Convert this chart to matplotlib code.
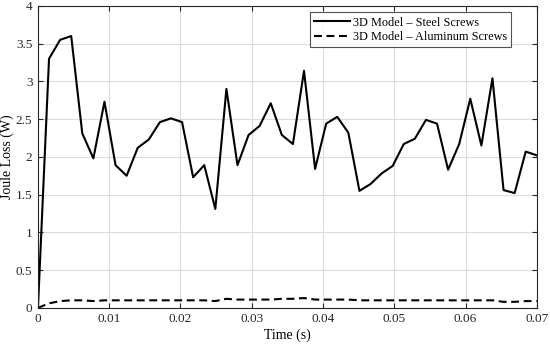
import matplotlib

matplotlib.use("Agg")

import matplotlib.pyplot as plt
from matplotlib.ticker import FuncFormatter


N_STEPS = 45
T_END = 0.07

STEEL_LOSS = [
    0.0, 3.30, 3.55, 3.60, 2.31, 1.98, 2.73, 1.89, 1.75, 2.12,
    2.23, 2.46, 2.51, 2.46, 1.73, 1.89, 1.31, 2.90, 1.89, 2.29,
    2.41, 2.71, 2.29, 2.17, 3.14, 1.84, 2.44, 2.53, 2.32, 1.55,
    1.64, 1.78, 1.88, 2.17, 2.24, 2.49, 2.44, 1.83, 2.17, 2.77,
    2.15, 3.04, 1.56, 1.52, 2.07, 2.02,
]

ALU_LOSS = [
    0.0, 0.06, 0.09, 0.10, 0.10, 0.09, 0.10, 0.10, 0.10, 0.10,
    0.10, 0.10, 0.10, 0.10, 0.10, 0.10, 0.09, 0.12, 0.11, 0.11,
    0.11, 0.11, 0.12, 0.12, 0.13, 0.11, 0.11, 0.11, 0.11, 0.10,
    0.10, 0.10, 0.10, 0.10, 0.10, 0.10, 0.10, 0.10, 0.10, 0.10,
    0.10, 0.10, 0.08, 0.08, 0.09, 0.09,
]

TIME = [i * T_END / N_STEPS for i in range(N_STEPS + 1)]

X_TICKS = [0, 0.01, 0.02, 0.03, 0.04, 0.05, 0.06, 0.07]
Y_TICKS = [0, 0.5, 1, 1.5, 2, 2.5, 3, 3.5, 4]


def short_num(v, _pos=None):
    s = f"{v:.2f}".rstrip("0").rstrip(".")
    return "0" if s in ("", "-0") else s


def main():
    plt.rcParams["font.family"] = ["Liberation Serif", "DejaVu Serif"]

    fig = plt.figure(figsize=(5.5, 3.44), dpi=100)
    ax = fig.add_axes([0.069, 0.105, 0.907, 0.878])

    ax.plot(TIME, STEEL_LOSS, color="black", lw=1.5, label="3D Model \u2013 Steel Screws")
    ax.plot(TIME, ALU_LOSS, color="black", lw=1.5, ls=(0, (3.8, 2.2)),
            label="3D Model \u2013 Aluminum Screws")

    ax.set_xlim(0, 0.07)
    ax.set_ylim(0, 4)
    ax.set_xticks(X_TICKS)
    ax.set_yticks(Y_TICKS)
    ax.xaxis.set_major_formatter(FuncFormatter(short_num))
    ax.yaxis.set_major_formatter(FuncFormatter(short_num))
    ax.tick_params(direction="in", top=True, right=True, labelsize=9.5,
                   length=3.5, width=0.8, colors="#262626", pad=4)
    ax.grid(True, color="#dcdcdc", lw=0.8)
    ax.set_axisbelow(True)
    for spine in ax.spines.values():
        spine.set_color("#262626")
        spine.set_linewidth(0.8)

    ax.set_xlabel("Time (s)", fontsize=10, labelpad=2)
    ax.set_ylabel("Joule Loss (W)", fontsize=10)
    ax.yaxis.set_label_coords(-0.048, 0.5)

    leg = ax.legend(loc="upper right", bbox_to_anchor=(0.949, 0.978), fontsize=8.8,
                    frameon=True, fancybox=False, handlelength=2.9,
                    borderpad=0.35, labelspacing=0.2, handletextpad=0.25,
                    borderaxespad=0)
    leg.get_frame().set_edgecolor("#262626")
    leg.get_frame().set_linewidth(0.8)

    fig.savefig("out.png", dpi=100)
    plt.close(fig)


if __name__ == "__main__":
    main()
